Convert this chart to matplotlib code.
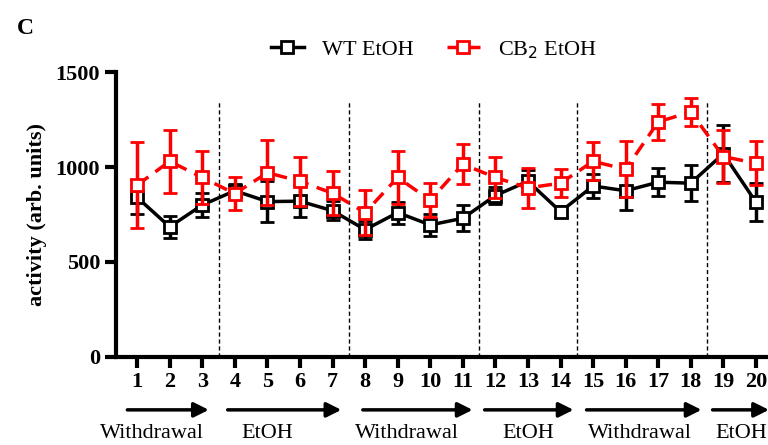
import matplotlib
matplotlib.use("Agg")
import matplotlib.pyplot as plt
import matplotlib.transforms as mtransforms
from matplotlib.lines import Line2D

plt.rcParams['font.family'] = ['Liberation Serif', 'DejaVu Serif']

sessions = list(range(1, 21))
wt_mean = [840, 685, 800, 875, 818, 820, 770, 670, 760, 695,
           730, 850, 925, 765, 900, 875, 920, 915, 1070, 815]
wt_sem = [90, 58, 65, 35, 110, 85, 50, 48, 58, 60,
          68, 45, 57, 30, 65, 100, 75, 95, 150, 100]
cb2_mean = [905, 1030, 945, 860, 970, 925, 862, 760, 945, 825,
            1015, 945, 890, 915, 1030, 988, 1238, 1290, 1055, 1020]
cb2_sem = [225, 165, 140, 85, 170, 130, 115, 120, 140, 90,
           105, 110, 105, 72, 100, 148, 95, 75, 140, 115]

phase_bounds = [3.5, 7.5, 11.5, 14.5, 18.5]
phase_names = ["Withdrawal", "EtOH", "Withdrawal", "EtOH", "Withdrawal", "EtOH"]
arrow_start = [0.7, 3.78, 7.93, 11.67, 14.8, 18.67]
arrow_end = [3.2, 7.27, 11.3, 14.4, 18.33, 20.4]
label_x = [1.47, 5.0, 9.3, 13.0, 16.45, 19.55]

fig = plt.figure(figsize=(7.68, 4.45), dpi=100)
ax = fig.add_axes([0.151, 0.198, 0.846, 0.64])

ax.vlines(phase_bounds, 0, 1340, colors="black", linestyles=(0, (3, 2)), lw=1)

wt_style = dict(color="black", lw=2.5, marker="s", ms=9, mfc="white",
                mec="black", mew=2)
cb2_style = dict(color="#ff0000", lw=2.5, marker="s", ms=9, mfc="white",
                 mec="#ff0000", mew=2, ls=(0, (4, 2.5)))

ax.errorbar(sessions, wt_mean, yerr=wt_sem, capsize=5, capthick=2.5,
            elinewidth=2.5, zorder=3, **wt_style)
ax.errorbar(sessions, cb2_mean, yerr=cb2_sem, capsize=5, capthick=2.5,
            elinewidth=2.5, zorder=4, **cb2_style)

ax.set_xlim(0.35, 20.3)
ax.set_ylim(0, 1500)
ax.set_yticks([0, 500, 1000, 1500])
ax.set_xticks(sessions)
ax.spines['top'].set_visible(False)
ax.spines['right'].set_visible(False)
ax.spines['left'].set_linewidth(3)
ax.spines['bottom'].set_linewidth(3)
ax.tick_params(width=3, length=8, labelsize=16)
ax.tick_params(axis="x", pad=3)
for lab in ax.get_xticklabels() + ax.get_yticklabels():
    lab.set_fontweight("bold")
ax.set_ylabel("activity (arb. units)", fontsize=16, fontweight="bold", labelpad=6)

trans = mtransforms.blended_transform_factory(ax.transData, ax.transAxes)
for x0, x1, name, lx in zip(arrow_start, arrow_end, phase_names, label_x):
    ax.annotate("", xy=(x1, -0.186), xytext=(x0, -0.186), xycoords=trans,
                textcoords=trans, annotation_clip=False,
                arrowprops=dict(arrowstyle="-|>", lw=2.5, color="black",
                                mutation_scale=22, shrinkA=0, shrinkB=0))
    ax.text(lx, -0.27, name, transform=trans, ha="center", va="center",
            fontsize=16, clip_on=False)

handles = [Line2D([], [], **wt_style), Line2D([], [], **cb2_style)]
fig.legend(handles, ["WT EtOH", "CB$_2$ EtOH"], loc="center",
           bbox_to_anchor=(0.565, 0.888), ncol=2, frameon=False,
           fontsize=16, handlelength=1.5, columnspacing=1.5, handletextpad=0.8)
fig.text(0.022, 0.935, "C", fontsize=17, fontweight="bold", va="center")

fig.savefig("out.png", dpi=100)
